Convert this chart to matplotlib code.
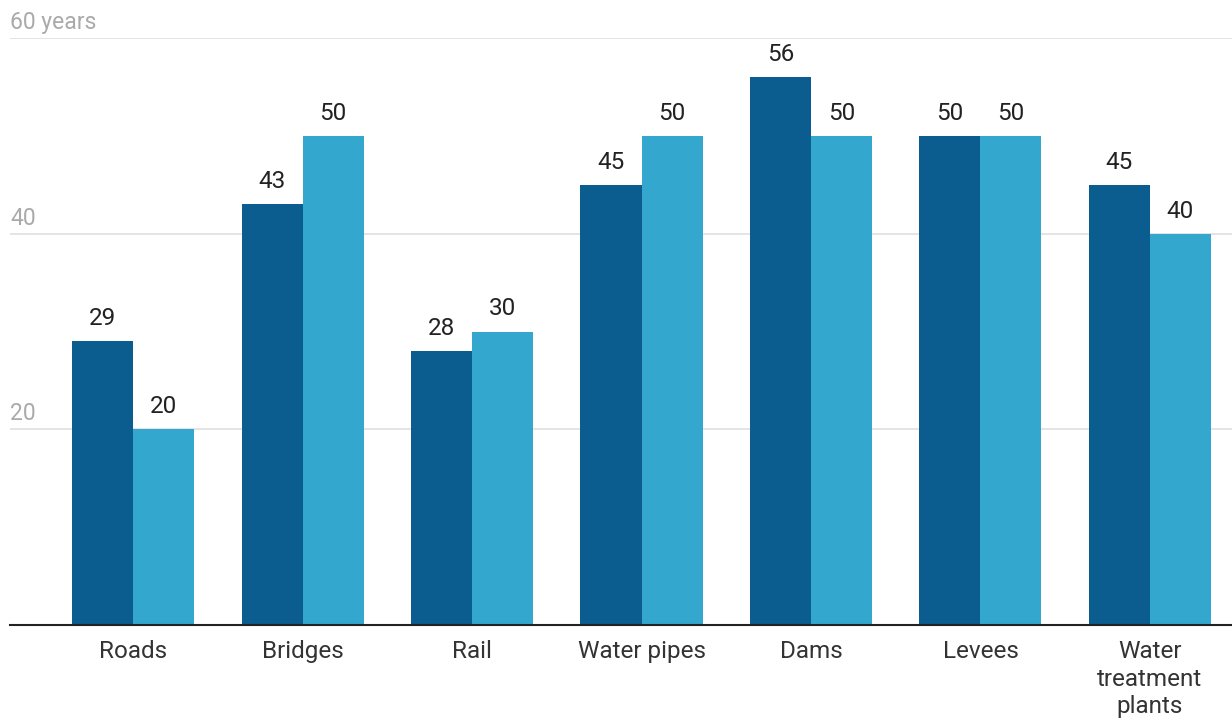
import matplotlib
matplotlib.use('Agg')
import matplotlib.pyplot as plt
import numpy as np

plt.rcParams['font.family'] = ['Roboto', 'DejaVu Sans']

# --- data ---
categories = ['Roads', 'Bridges', 'Rail', 'Water pipes', 'Dams', 'Levees',
              'Water\ntreatment\nplants']
avg_age = [29, 43, 28, 45, 56, 50, 45]
design_life = [20, 50, 30, 50, 50, 50, 40]
y_ticks = [20, 40, 60]
y_tick_labels = ['20', '40', '60 years']

dark = '#0b5c8f'
light = '#33a7cd'

fig = plt.figure(figsize=(12.32, 7.19), dpi=100)
ax = fig.add_axes([10 / 1232, 94 / 719, 1222 / 1232, 587 / 719])

x = np.arange(len(categories))
w = 0.36
b1 = ax.bar(x - w / 2, avg_age, w, color=dark, zorder=3)
b2 = ax.bar(x + w / 2, design_life, w, color=light, zorder=3)

for bars, vals in ((b1, avg_age), (b2, design_life)):
    for rect, v in zip(bars, vals):
        ax.annotate(str(v), (rect.get_x() + rect.get_width() / 2, v),
                    xytext=(0, 8), textcoords='offset points',
                    ha='center', va='bottom', fontsize=17.5, color='#222222')

ax.set_xlim(-0.726, 6.484)
ax.set_ylim(0, 60)

# gridlines + labels sitting above them
for t, lab in zip(y_ticks, y_tick_labels):
    ax.axhline(t, color='#e2e2e2', lw=1.3, zorder=1)
    ax.annotate(lab, (0, t), xycoords=('axes fraction', 'data'),
                xytext=(0, 3), textcoords='offset points',
                ha='left', va='bottom', fontsize=16.5, color='#aaaaaa')

ax.set_yticks([])
ax.set_xticks(x)
ax.set_xticklabels(categories, fontsize=17.5, color='#333333', linespacing=1.25,
                   va='top')
ax.tick_params(axis='x', length=0, pad=11)

for s in ('top', 'right', 'left'):
    ax.spines[s].set_visible(False)
ax.spines['bottom'].set_color('#222222')
ax.spines['bottom'].set_linewidth(1.5)
ax.spines['bottom'].set_zorder(4)

fig.savefig('out.png', dpi=100, facecolor='white')
